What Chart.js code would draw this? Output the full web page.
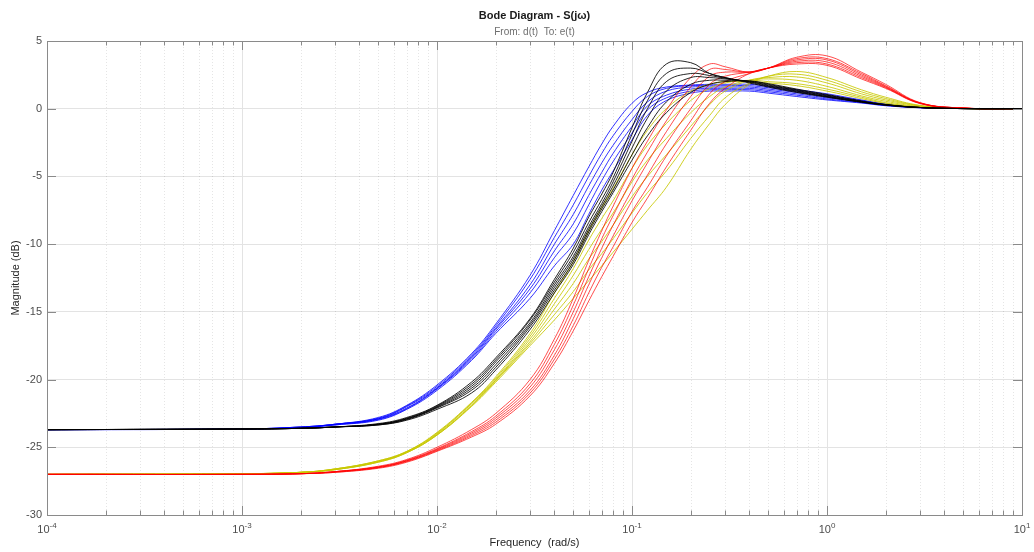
<!DOCTYPE html>
<html>
<head>
<meta charset="utf-8">
<script src="https://cdn.jsdelivr.net/npm/chart.js@4/dist/chart.umd.min.js"></script>
<style>
  html, body { margin: 0; padding: 0; background: #ffffff; }
  #wrap { width: 1034px; height: 552px; position: relative; }
</style>
</head>
<body>
<div id="wrap"><canvas id="c" width="1034" height="552"></canvas></div>
<script>
// ---- data ----
const freq = [1e-4, 1e-3, 2e-3, 3e-3, 5e-3, 7e-3, 0.01, 0.015, 0.02, 0.03, 0.04, 0.05, 0.06, 0.07, 0.08, 0.1, 0.12, 0.15, 0.2, 0.25, 0.3, 0.4, 0.5, 0.7, 1, 1.5, 2, 3, 5, 10];

const blue1 = [-23.7,-23.65,-23.5,-23.3,-22.8,-21.9,-20.4,-18.1,-15.9,-12.3,-9.0,-6.4,-4.3,-2.6,-1.3,0.4,1.2,1.6,1.75,1.8,1.8,1.8,1.65,1.4,1.1,0.65,0.35,0.11,0.02,0];
const blue2 = [-23.7,-23.65,-23.5,-23.3,-22.85,-21.95,-20.5,-18.2,-16.05,-12.6,-9.5,-7.1,-5.0,-3.3,-2.0,-0.2,0.9,1.5,1.7,1.7,1.7,1.7,1.55,1.3,1.0,0.6,0.32,0.1,0.02,0];
const blue3 = [-23.7,-23.65,-23.5,-23.3,-22.9,-22.0,-20.6,-18.3,-16.2,-13.0,-10.0,-7.8,-5.7,-4.0,-2.7,-0.8,0.5,1.3,1.6,1.6,1.6,1.6,1.45,1.2,0.9,0.55,0.29,0.09,0.02,0];
const blue4 = [-23.7,-23.65,-23.55,-23.3,-22.9,-22.1,-20.65,-18.4,-16.3,-13.3,-10.5,-8.5,-6.4,-4.7,-3.3,-1.3,0.2,1.0,1.45,1.5,1.5,1.5,1.35,1.1,0.8,0.5,0.26,0.08,0.015,0];
const blue5 = [-23.7,-23.65,-23.55,-23.35,-22.95,-22.15,-20.7,-18.5,-16.45,-13.6,-11.0,-9.2,-7.1,-5.3,-3.9,-1.8,-0.1,0.8,1.3,1.4,1.4,1.4,1.25,1.0,0.72,0.45,0.24,0.075,0.01,0];
const blue6 = [-23.7,-23.65,-23.55,-23.35,-23.0,-22.2,-20.8,-18.6,-16.6,-14.0,-11.6,-10.0,-7.8,-6.0,-4.6,-2.3,-0.5,0.6,1.15,1.3,1.3,1.3,1.15,0.9,0.65,0.42,0.22,0.07,0.01,0];

const black1 = [-23.7,-23.65,-23.6,-23.5,-23.25,-22.8,-21.9,-20.2,-18.4,-15.5,-12.6,-10.3,-8.0,-6.3,-4.7,-1.4,1.2,3.3,3.4,2.6,2.3,1.9,1.6,1.2,0.85,0.48,0.27,0.09,0.01,0];
const black2 = [-23.7,-23.65,-23.6,-23.5,-23.3,-22.85,-21.95,-20.35,-18.55,-15.6,-12.8,-10.6,-8.4,-6.7,-5.1,-1.9,0.6,2.6,3.0,2.6,2.3,1.95,1.65,1.25,0.88,0.5,0.27,0.09,0.01,0];
const black3 = [-23.7,-23.65,-23.6,-23.5,-23.3,-22.9,-22.0,-20.5,-18.7,-15.8,-13.0,-10.9,-8.7,-7.0,-5.4,-2.4,0.0,2.0,2.6,2.45,2.25,2.0,1.7,1.3,0.9,0.5,0.28,0.09,0.01,0];
const black4 = [-23.7,-23.65,-23.6,-23.5,-23.3,-22.9,-22.05,-20.65,-18.9,-15.95,-13.2,-11.1,-8.9,-7.2,-5.7,-2.9,-0.7,1.3,2.3,2.3,2.2,2.0,1.75,1.35,0.95,0.52,0.29,0.09,0.01,0];
const black5 = [-23.7,-23.65,-23.6,-23.5,-23.35,-22.95,-22.1,-20.8,-19.1,-16.1,-13.4,-11.3,-9.1,-7.4,-6.0,-3.4,-1.4,0.5,1.8,2.1,2.1,2.05,1.8,1.4,1.0,0.55,0.3,0.09,0.01,0];
const black6 = [-23.7,-23.65,-23.6,-23.5,-23.35,-23.0,-22.2,-21.0,-19.3,-16.3,-13.6,-11.5,-9.3,-7.6,-6.2,-3.8,-2.0,-0.3,1.2,1.8,2.0,2.05,1.85,1.45,1.05,0.58,0.31,0.09,0.01,0];

const yellow1 = [-27.0,-26.95,-26.85,-26.6,-26.0,-25.3,-23.9,-21.7,-19.8,-16.6,-13.6,-11.3,-9.0,-7.3,-5.9,-3.4,-1.6,0.0,1.3,1.8,2.0,2.0,1.9,1.7,1.3,0.75,0.4,0.1,0.01,0];
const yellow2 = [-27.0,-26.95,-26.85,-26.6,-26.0,-25.3,-23.95,-21.75,-19.9,-16.8,-14.0,-11.8,-9.7,-8.1,-6.8,-4.4,-2.7,-1.1,0.6,1.5,1.9,2.1,2.0,1.85,1.45,0.85,0.45,0.12,0.01,0];
const yellow3 = [-27.0,-26.95,-26.85,-26.6,-26.05,-25.35,-24.0,-21.8,-20.0,-17.0,-14.4,-12.3,-10.4,-8.9,-7.7,-5.4,-3.8,-2.2,-0.3,0.9,1.6,2.1,2.2,2.1,1.65,0.95,0.55,0.15,0.02,0];
const yellow4 = [-27.0,-26.95,-26.85,-26.65,-26.05,-25.35,-24.05,-21.9,-20.05,-17.2,-14.8,-12.9,-11.1,-9.8,-8.6,-6.5,-5.0,-3.4,-1.3,0.3,1.3,2.1,2.3,2.35,1.9,1.1,0.65,0.2,0.02,0];
const yellow5 = [-27.0,-26.95,-26.85,-26.65,-26.1,-25.4,-24.1,-21.95,-20.1,-17.35,-15.2,-13.5,-11.9,-10.7,-9.6,-7.7,-6.2,-4.6,-2.2,-0.5,0.8,1.9,2.4,2.55,2.1,1.25,0.75,0.22,0.02,0];
const yellow6 = [-27.0,-26.95,-26.85,-26.65,-26.1,-25.4,-24.1,-22.0,-20.2,-17.5,-15.6,-14.0,-12.7,-11.6,-10.6,-8.9,-7.5,-5.8,-3.0,-1.1,0.3,1.8,2.4,2.75,2.3,1.4,0.85,0.25,0.03,0];

const red1 = [-27.0,-27.0,-26.95,-26.8,-26.4,-25.9,-25.0,-23.7,-22.5,-20.0,-17.0,-14.0,-11.2,-9.0,-7.2,-4.4,-2.4,-0.1,2.3,3.3,3.1,2.7,3.0,3.8,3.9,2.7,1.8,0.45,0.05,0];
const red2 = [-27.0,-27.0,-26.95,-26.8,-26.45,-25.95,-25.1,-23.85,-22.7,-20.3,-17.4,-14.5,-11.8,-9.6,-7.9,-5.2,-3.2,-0.9,1.6,2.9,2.9,2.7,3.0,3.7,3.7,2.6,1.7,0.43,0.05,0];
const red3 = [-27.0,-27.0,-26.95,-26.8,-26.45,-26.0,-25.15,-23.95,-22.85,-20.55,-17.8,-15.0,-12.4,-10.3,-8.6,-6.0,-4.0,-1.7,0.9,2.4,2.7,2.7,3.0,3.6,3.6,2.5,1.65,0.42,0.05,0];
const red4 = [-27.0,-27.0,-26.95,-26.8,-26.5,-26.0,-25.2,-24.05,-23.0,-20.8,-18.2,-15.5,-13.0,-11.0,-9.4,-6.8,-4.9,-2.6,0.0,1.8,2.4,2.7,3.0,3.5,3.45,2.4,1.6,0.4,0.05,0];
const red5 = [-27.0,-27.0,-26.95,-26.85,-26.5,-26.05,-25.25,-24.15,-23.15,-21.0,-18.5,-16.0,-13.6,-11.7,-10.2,-7.6,-5.8,-3.5,-0.9,1.1,2.0,2.6,3.0,3.4,3.3,2.3,1.55,0.4,0.05,0];
const red6 = [-27.0,-27.0,-26.95,-26.85,-26.55,-26.1,-25.3,-24.25,-23.3,-21.2,-18.8,-16.4,-14.2,-12.4,-10.9,-8.4,-6.6,-4.3,-1.6,0.4,1.5,2.6,3.0,3.3,3.2,2.2,1.5,0.38,0.05,0];

const xMajorTicks = [1e-4, 1e-3, 1e-2, 1e-1, 1, 10];
const xTickExponents = ['-4', '-3', '-2', '-1', '0', '1'];
const yTicks = [5, 0, -5, -10, -15, -20, -25, -30];

const titleText = 'Bode Diagram - S(jω)';
const subtitleText = 'From: d(t)  To: e(t)';
const xTitle = 'Frequency  (rad/s)';
const yTitle = 'Magnitude (dB)';

// ---- build datasets ----
function mk(vals, color) {
  return {
    data: freq.map((f, i) => ({ x: f, y: vals[i] })),
    borderColor: color,
    borderWidth: 1,
    pointRadius: 0,
    pointHoverRadius: 0,
    fill: false,
    tension: 0.4
  };
}
const BLACK = 'rgba(0,0,0,0.85)';
const BLUE = 'rgba(0,0,255,0.8)';
const RED = 'rgba(255,0,0,0.7)';
const YEL = 'rgba(200,200,0,0.85)';

const datasets = [
  ...[black1, black2, black3, black4, black5, black6].map(a => mk(a, BLACK)),
  ...[red1, red2, red3, red4, red5, red6].map(a => mk(a, RED)),
  ...[yellow1, yellow2, yellow3, yellow4, yellow5, yellow6].map(a => mk(a, YEL)),
  ...[blue1, blue2, blue3, blue4, blue5, blue6].map(a => mk(a, BLUE))
];

const FONT = '"Liberation Sans", Arial, Helvetica, sans-serif';
const AXIS_COLOR = '#8a8a8a';

const matlabAxes = {
  id: 'matlabAxes',
  beforeDatasetsDraw(chart) {
    const { ctx, chartArea: a, scales: { x } } = chart;
    ctx.save();
    ctx.strokeStyle = 'rgba(0,0,0,0.10)';
    ctx.lineWidth = 1;
    ctx.setLineDash([1, 2]);
    for (let d = -4; d < 1; d++) {
      for (let k = 2; k <= 9; k++) {
        const px = Math.round(x.getPixelForValue(k * Math.pow(10, d))) + 0.5;
        ctx.beginPath();
        ctx.moveTo(px, a.top);
        ctx.lineTo(px, a.bottom);
        ctx.stroke();
      }
    }
    ctx.restore();
  },
  afterDatasetsDraw(chart) {
    const { ctx, chartArea: a, scales: { x, y } } = chart;
    ctx.save();
    ctx.strokeStyle = AXIS_COLOR;
    ctx.lineWidth = 1;
    ctx.setLineDash([]);
    ctx.strokeRect(Math.round(a.left) + 0.5, Math.round(a.top) + 0.5,
                   Math.round(a.right - a.left), Math.round(a.bottom - a.top));
    for (let d = -4; d <= 1; d++) {
      for (let k = 1; k <= 9; k++) {
        const v = k * Math.pow(10, d);
        if (v > 10) break;
        const px = Math.round(x.getPixelForValue(v)) + 0.5;
        const len = k === 1 ? 9 : 4.5;
        ctx.beginPath();
        ctx.moveTo(px, a.bottom); ctx.lineTo(px, a.bottom - len);
        ctx.moveTo(px, a.top); ctx.lineTo(px, a.top + len);
        ctx.stroke();
      }
    }
    yTicks.forEach(v => {
      const py = Math.round(y.getPixelForValue(v)) + 0.5;
      ctx.beginPath();
      ctx.moveTo(a.left, py); ctx.lineTo(a.left + 9, py);
      ctx.moveTo(a.right, py); ctx.lineTo(a.right - 9, py);
      ctx.stroke();
    });
    ctx.restore();
  },
  afterDraw(chart) {
    const { ctx, chartArea: a, scales: { x } } = chart;
    ctx.save();
    const cx = (a.left + a.right) / 2;
    ctx.textAlign = 'center';
    ctx.textBaseline = 'middle';
    ctx.fillStyle = '#1a1a1a';
    ctx.font = 'bold 11px ' + FONT;
    ctx.fillText(titleText, cx, 16);
    ctx.fillStyle = '#6e6e6e';
    ctx.font = '10px ' + FONT;
    ctx.fillText(subtitleText, cx, 32);
    ctx.fillStyle = '#4d4d4d';
    ctx.textBaseline = 'alphabetic';
    ctx.textAlign = 'left';
    xMajorTicks.forEach((v, i) => {
      const px = x.getPixelForValue(v);
      ctx.font = '11px ' + FONT;
      const wBase = ctx.measureText('10').width;
      ctx.font = '8px ' + FONT;
      const wExp = ctx.measureText(xTickExponents[i]).width;
      const start = px - (wBase + wExp) / 2;
      ctx.font = '11px ' + FONT;
      ctx.fillText('10', start, 533);
      ctx.font = '8px ' + FONT;
      ctx.fillText(xTickExponents[i], start + wBase, 528);
    });
    ctx.restore();
  }
};

new Chart(document.getElementById('c'), {
  type: 'line',
  data: { datasets },
  plugins: [matlabAxes],
  options: {
    responsive: false,
    animation: false,
    events: [],
    layout: { padding: { top: 41, right: 12, left: 0, bottom: 0 } },
    plugins: {
      legend: { display: false },
      title: { display: false },
      tooltip: { enabled: false }
    },
    scales: {
      x: {
        type: 'logarithmic',
        min: 1e-4,
        max: 10,
        afterBuildTicks: s => { s.ticks = xMajorTicks.map(v => ({ value: v })); },
        afterFit: s => { s.height = 37; },
        ticks: { display: false },
        grid: { color: '#e3e3e3', drawTicks: false, lineWidth: 1 },
        border: { display: false },
        title: {
          display: true, text: xTitle, color: '#262626',
          font: { family: FONT, size: 11 }, padding: { top: 0, bottom: 2 }
        }
      },
      y: {
        type: 'linear',
        min: -30,
        max: 5,
        afterBuildTicks: s => { s.ticks = yTicks.map(v => ({ value: v })); },
        afterFit: s => { s.width = 47; },
        ticks: { color: '#4d4d4d', font: { family: FONT, size: 11 }, padding: 5 },
        grid: { color: '#e3e3e3', drawTicks: false, lineWidth: 1 },
        border: { display: false },
        title: {
          display: true, text: yTitle, color: '#262626',
          font: { family: FONT, size: 11 }, padding: { top: 9, bottom: 0 }
        }
      }
    }
  }
});
</script>
</body>
</html>
